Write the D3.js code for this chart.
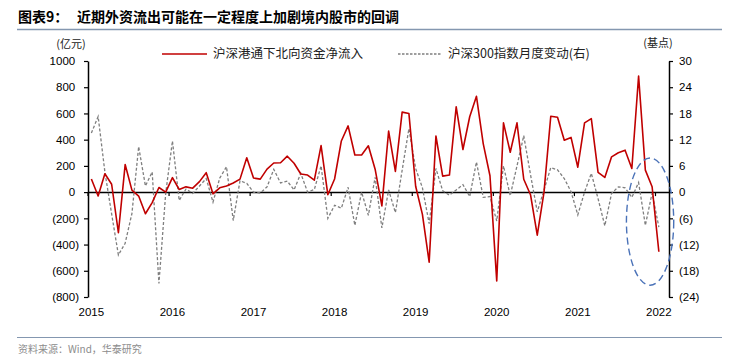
<!DOCTYPE html>
<html>
<head>
<meta charset="utf-8">
<script src="https://cdn.jsdelivr.net/npm/d3@7"></script>
<style>
  body { margin: 0; background: #fff; }
  svg text { font-family: "Liberation Sans", Arial, sans-serif; }
  .cjk { font-family: "Noto Sans CJK SC", sans-serif; }
</style>
</head>
<body>
<svg width="738" height="363"></svg>
<script>
const title1 = "图表9：";
const title2 = "近期外资流出可能在一定程度上加剧境内股市的回调";
const seriesNames = ["沪深港通下北向资金净流入", "沪深300指数月度变动(右)"];
const leftUnit = "(亿元)";
const rightUnit = "(基点)";
const source = "资料来源：Wind，华泰研究";

const yearLabels = ["2015", "2016", "2017", "2018", "2019", "2020", "2021", "2022"];
const leftTicks = [1000, 800, 600, 400, 200, 0, -200, -400, -600, -800];
const rightTicks = [30, 24, 18, 12, 6, 0, -6, -12, -18, -24];

// monthly, Jan 2015 .. Jan 2022 (亿元)
const northbound = [
  100, -30, 140, 60, -310, 210, 15, -30, -165, -80, 35, 0,
  110, 20, 40, 30, 80, 148, -13, 33, 46, 69, 99, 262,
  107, 99, 175, 222, 224, 274, 220, 138, 130, 91, 355, -20,
  100, 390, 505, 283, 283, 353, 175, -105, 466, 158, 610, 600,
  45, -170, -535, 428, 122, 130, 650, 325, 575, 731, 370, 125,
  -678, 528, 304, 528, 98, -20, -328, 0, 579, 571, 396, 417,
  190, 528, 561, 150, 112, 269, 300, 320, 180, 886, 168, 41,
  -455
];

// monthly change of CSI 300 (右轴, 基点)
const hs300Change = [
  13.5, 17.3, 4.6, -5, -14.4, -11.7, -4.9, 10.4, 1.4, 4.6, -20.9, -0.3,
  11.7, -1.9, 0.7, -0.3, 1.4, 3.1, -2.3, 3.2, 5.8, -6.5, 2.6, 2.0,
  0, -0.2, 1.2, 5.2, 2.1, 2.5, 0.5, 4.3, 0, 0.6, 6.0, -6.0,
  -3.0, -3.7, 1.1, -7.6, 0, -5.3, 3.4, -8.2, 0.5, -4.7, 5, 14.5,
  5.4, 1.0, -7.2, 5.4, 0.3, -0.7, 0.5, 1.7, -1, 6.9, -1.2, -1.0,
  -6.6, 6.0, -0.8, 6, 12.9, 4.0, -4.5, 0.5, 5.6, 5.1, 3.1, 0.1,
  -5.2, 0, 4.3, -1.5, -7.7, -0.3, 1.2, 1.0, -1.2, 2.2, -7.6, -0.2,
  -8
];

// highlighted area (month index range, right-axis range)
const focusMonths = [79.7, 86.7];
const focusValues = [7.8, -21.3];

const svg = d3.select('svg');

// month categories: Jan 2015 .. Feb 2022 (last one left empty)
const months = [];
yearLabels.forEach(y => {
  for (let m = 1; m <= 12; m++) {
    if (y === "2022" && m > 2) break;
    months.push(y + "-" + String(m).padStart(2, "0"));
  }
});

const plot = { left: 88, right: 669, top: 61, bottom: 297 };

const x = d3.scaleBand().domain(months).range([plot.left, plot.right]).padding(0);
const bw = x.bandwidth();
const yLeft = d3.scaleLinear().domain([-800, 1000]).range([plot.bottom, plot.top]);
const yRight = d3.scaleLinear().domain([-24, 30]).range([plot.bottom, plot.top]);
const xIdx = d3.scaleLinear().domain([0, months.length]).range([plot.left, plot.right]);

const fmt = d => d < 0 ? `(${-d})` : `${d}`;

// title + rules
svg.append('text')
  .attr('class', 'cjk')
  .attr('x', 18).attr('y', 22)
  .attr('font-size', 14).attr('font-weight', 700).attr('fill', '#000')
  .call(t => {
    t.append('tspan').text(title1);
    t.append('tspan').attr('x', 77).text(title2);
  });

svg.append('line')
  .attr('x1', 17).attr('x2', 722).attr('y1', 29.5).attr('y2', 29.5)
  .attr('stroke', '#8497b0').attr('stroke-width', 1.5);

svg.append('line')
  .attr('x1', 17).attr('x2', 722).attr('y1', 337.5).attr('y2', 337.5)
  .attr('stroke', '#8497b0').attr('stroke-width', 1.2);

svg.append('text')
  .attr('class', 'cjk')
  .attr('x', 18).attr('y', 353)
  .attr('font-size', 10).attr('fill', '#8c8c8c')
  .text(source);

// units
svg.append('text').attr('class', 'cjk')
  .attr('x', 71).attr('y', 48).attr('text-anchor', 'middle')
  .attr('font-size', 11).attr('fill', '#222').text(leftUnit);
svg.append('text').attr('class', 'cjk')
  .attr('x', 658).attr('y', 47).attr('text-anchor', 'middle')
  .attr('font-size', 11).attr('fill', '#222').text(rightUnit);

// axes
const leftAxis = svg.append('g')
  .attr('transform', `translate(${plot.left},0)`)
  .call(d3.axisLeft(yLeft).tickValues(leftTicks).tickSize(4).tickSizeOuter(0).tickPadding(5).tickFormat(fmt));
leftAxis.selectAll('text')
  .attr('font-size', 11.5).attr('fill', '#000')
  .attr('dx', d => d < 0 ? 0 : -3.8);

const rightAxis = svg.append('g')
  .attr('transform', `translate(${plot.right},0)`)
  .call(d3.axisRight(yRight).tickValues(rightTicks).tickSize(4).tickSizeOuter(0).tickPadding(6).tickFormat(fmt));
rightAxis.selectAll('text').attr('font-size', 11.5).attr('fill', '#000');

const janMonths = yearLabels.map(y => y + "-01");
const xAxis = svg.append('g')
  .attr('transform', `translate(0,${yLeft(0)})`)
  .call(d3.axisBottom(x).tickValues(janMonths).tickSize(4).tickSizeOuter(0).tickFormat(d => d.slice(0, 4)));
xAxis.selectAll('.tick line').attr('transform', `translate(${-bw / 2},0)`);
xAxis.selectAll('.tick text')
  .attr('font-size', 11.5).attr('fill', '#000')
  .attr('y', 116).attr('dy', '0.71em');

[leftAxis, rightAxis, xAxis].forEach(a => {
  a.select('.domain').attr('stroke', '#000').attr('stroke-width', 1.5);
  a.selectAll('.tick line').attr('stroke', '#000').attr('stroke-width', 1.2);
});

// lines
const cx = (d, i) => x(months[i]) + bw / 2;

svg.append('path')
  .datum(hs300Change)
  .attr('fill', 'none')
  .attr('stroke', '#7f7f7f')
  .attr('stroke-width', 1.3)
  .attr('stroke-dasharray', '3,2')
  .attr('d', d3.line().x(cx).y(d => yRight(d)));

svg.append('path')
  .datum(northbound)
  .attr('fill', 'none')
  .attr('stroke', '#c00000')
  .attr('stroke-width', 1.6)
  .attr('stroke-linejoin', 'round')
  .attr('d', d3.line().x(cx).y(d => yLeft(d)));

// highlight ellipse
svg.append('ellipse')
  .attr('cx', (xIdx(focusMonths[0]) + xIdx(focusMonths[1])) / 2)
  .attr('cy', (yRight(focusValues[0]) + yRight(focusValues[1])) / 2)
  .attr('rx', (xIdx(focusMonths[1]) - xIdx(focusMonths[0])) / 2)
  .attr('ry', (yRight(focusValues[1]) - yRight(focusValues[0])) / 2)
  .attr('fill', 'none')
  .attr('stroke', '#4a72b8')
  .attr('stroke-width', 1.4)
  .attr('stroke-dasharray', '7,4');

// legend
const legend = svg.append('g');
legend.append('line')
  .attr('x1', 162).attr('x2', 207).attr('y1', 54).attr('y2', 54)
  .attr('stroke', '#c00000').attr('stroke-width', 1.6);
legend.append('text').attr('class', 'cjk')
  .attr('x', 213).attr('y', 58).attr('font-size', 12.5).attr('fill', '#222')
  .text(seriesNames[0]);
legend.append('line')
  .attr('x1', 398).attr('x2', 441).attr('y1', 54).attr('y2', 54)
  .attr('stroke', '#7f7f7f').attr('stroke-width', 1.3).attr('stroke-dasharray', '2.5,1.5');
legend.append('text').attr('class', 'cjk')
  .attr('x', 448).attr('y', 58).attr('font-size', 12.5).attr('fill', '#222')
  .text(seriesNames[1]);
</script>
</body>
</html>
